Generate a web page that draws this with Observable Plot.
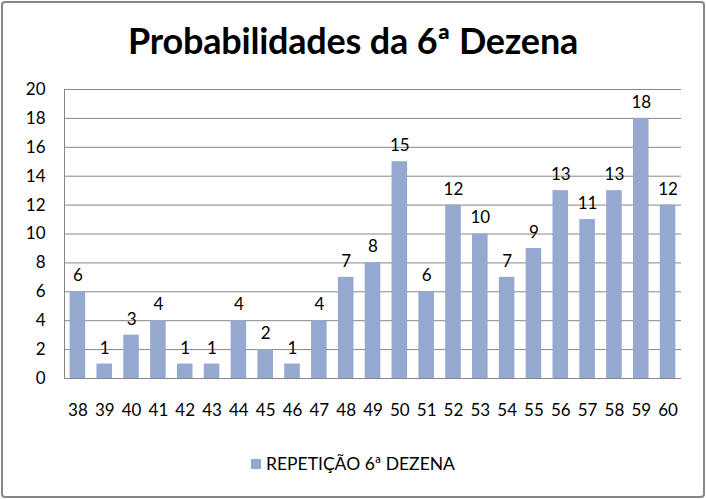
<!DOCTYPE html>
<html>
<head>
<meta charset="utf-8">
<script src="https://cdn.jsdelivr.net/npm/d3@7"></script>
<script src="https://cdn.jsdelivr.net/npm/@observablehq/plot@0.6"></script>
<style>
  body { margin: 0; background: #fff; }
  #frame { position: absolute; left: 1px; top: 1px; width: 704px; height: 497px; box-sizing: border-box;
           border: 2px solid #878787; border-radius: 4px; background: #fff; }
  #title { position: absolute; left: 0; top: 18px; width: 706px; text-align: center;
           font-family: Lato, "Open Sans", sans-serif; font-weight: bold; font-size: 36px; color: #000; letter-spacing: -0.2px; }
  #chart { position: absolute; left: 0; top: 72px; }
  #legend { position: absolute; left: 0; top: 453px; width: 706px; text-align: center;
            font-family: Lato, "Open Sans", sans-serif; font-size: 17.5px; color: #000; }
  #legend .sw { display: inline-block; width: 10px; height: 10px; background: #94A8D0; margin-right: 5px; vertical-align: 1px; }
</style>
</head>
<body>
<div id="frame"></div>
<div id="title">Probabilidades da 6ª Dezena</div>
<div id="chart"></div>
<div id="legend"><span class="sw"></span>REPETIÇÃO 6ª DEZENA</div>
<script>
const dezenas = ["38","39","40","41","42","43","44","45","46","47","48","49","50","51","52","53","54","55","56","57","58","59","60"];
const repeticoes = [6,1,3,4,1,1,4,2,1,4,7,8,15,6,12,10,7,9,13,11,13,18,12];
const yTicks = [0,2,4,6,8,10,12,14,16,18,20];
const seriesName = "REPETIÇÃO 6ª DEZENA";

const data = dezenas.map((d, i) => ({dezena: d, valor: repeticoes[i]}));

const chart = Plot.plot({
  width: 706,
  height: 356,
  marginTop: 17,
  marginBottom: 50,
  marginLeft: 64,
  marginRight: 25,
  style: {fontFamily: "Lato, 'Open Sans', sans-serif", fontSize: "16px", color: "#000", background: "transparent", overflow: "visible"},
  x: {domain: dezenas, paddingInner: 0.42, paddingOuter: 0.21, round: false, label: null},
  y: {domain: [0, 20], label: null},
  marks: [
    Plot.gridY(yTicks, {stroke: "#868686", strokeOpacity: 1}),
    Plot.frame({anchor: "left", stroke: "#868686"}),
    Plot.barY(data, {x: "dezena", y: "valor", fill: "#94A8D0"}),
    Plot.text(data, {x: "dezena", y: "valor", text: d => String(d.valor), dy: -16, fontSize: 17, fill: "#000"}),
    Plot.axisY(yTicks, {tickSize: 0, tickPadding: 19, fontSize: 17, tickFormat: d => String(d)}),
    Plot.axisX({tickSize: 0, tickPadding: 25, fontSize: 17})
  ]
});
document.getElementById("chart").appendChild(chart);
</script>
</body>
</html>
